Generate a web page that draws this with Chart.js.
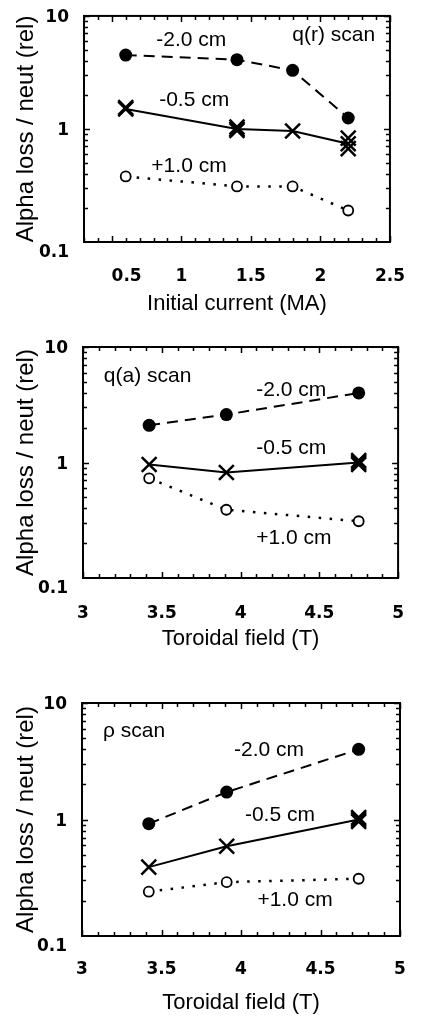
<!DOCTYPE html>
<html>
<head>
<meta charset="utf-8">
<script src="https://cdn.jsdelivr.net/npm/chart.js@4.4.1/dist/chart.umd.min.js"></script>
<style>
  html, body { margin: 0; padding: 0; background: #fff; }
  body { width: 421px; height: 1018px; position: relative; overflow: hidden; }
  canvas { position: absolute; left: 0; }
</style>
</head>
<body>
<canvas id="qrChart" width="421" height="330" style="top:0"></canvas>
<canvas id="qaChart" width="421" height="330" style="top:330px"></canvas>
<canvas id="rhoChart" width="421" height="348" style="top:670px"></canvas>
<script>
// q(r) scan -- alpha loss vs initial current
const current = [0.6, 1.4, 1.8, 2.2];
const qrMinus20 = [4.5, 4.1, 3.3, 1.25];
const qrMinus05 = [1.5, 1.0, 0.96, 0.74];
const qrPlus10 = [0.38, 0.31, 0.31, 0.19];
// repeated shots that sit on top of the -0.5 cm points
const qrRepeatX = [0.6, 1.4, 1.4, 2.2, 2.2];
const qrRepeatY = [1.55, 0.97, 1.04, 0.83, 0.67];

// q(a) scan -- alpha loss vs toroidal field
const fieldQa = [3.42, 3.91, 4.75];
const qaMinus20 = [2.1, 2.6, 4.0];
const qaMinus05 = [0.96, 0.82, 1.0];
const qaPlus10 = [0.73, 0.39, 0.31];
const qaRepeatX = [4.75, 4.75];
const qaRepeatY = [0.96, 1.04];

// rho scan -- alpha loss vs toroidal field
const fieldRho = [3.42, 3.91, 4.74];
const rhoMinus20 = [0.92, 1.72, 4.0];
const rhoMinus05 = [0.39, 0.59, 1.0];
const rhoPlus10 = [0.24, 0.29, 0.31];
const rhoRepeatX = [4.74, 4.74];
const rhoRepeatY = [0.96, 1.04];

const yTicks = [0.1, 1, 10];
const currentTicks = [0.5, 1, 1.5, 2, 2.5];
const fieldTicks = [3, 3.5, 4, 4.5, 5];

const pts = (xs, ys) => xs.map((x, i) => ({ x, y: ys[i] }));

const TEXT_FONT = '"Liberation Sans", Arial, Helvetica, sans-serif';

const dashedFilled = {
  borderColor: "#000", borderWidth: 2, borderDash: [11, 7],
  pointStyle: "circle", pointRadius: 6.5,
  pointBackgroundColor: "#000", pointBorderColor: "#000", pointBorderWidth: 0
};
const solidCross = {
  borderColor: "#000", borderWidth: 2,
  pointStyle: "crossRot", pointRadius: 10.5,
  pointBorderColor: "#000", pointBorderWidth: 2.5
};
const dottedOpen = {
  borderColor: "#000", borderWidth: 2.5, borderDash: [2.5, 8.5],
  pointStyle: "circle", pointRadius: 5,
  pointBackgroundColor: "#fff", pointBorderColor: "#000", pointBorderWidth: 1.8
};

// box frame with inward ticks on all four sides
const frameTicks = {
  id: "frameTicks",
  afterDraw(chart, args, opts) {
    const { ctx, chartArea: a, scales: { x, y } } = chart;
    ctx.save();
    ctx.strokeStyle = "#000";
    ctx.lineWidth = 1.5;
    ctx.beginPath();
    const n = Math.round((x.max - x.min) / opts.xMinor);
    for (let i = 0; i <= n; i++) {
      const v = x.min + i * opts.xMinor;
      const r = v / opts.xMajor;
      const len = Math.abs(r - Math.round(r)) < 1e-6 ? 6 : 4;
      const px = Math.round(x.getPixelForValue(v)) + 0.5;
      ctx.moveTo(px, a.bottom); ctx.lineTo(px, a.bottom - len);
      ctx.moveTo(px, a.top); ctx.lineTo(px, a.top + len);
    }
    [0.1, 1].forEach((d) => {
      for (let k = 2; k <= 10; k++) {
        const len = k === 10 ? 6 : 4;
        const py = Math.round(y.getPixelForValue(d * k)) + 0.5;
        ctx.moveTo(a.left, py); ctx.lineTo(a.left + len, py);
        ctx.moveTo(a.right, py); ctx.lineTo(a.right - len, py);
      }
    });
    ctx.stroke();
    ctx.lineWidth = 2;
    ctx.strokeRect(a.left, a.top, a.right - a.left, a.bottom - a.top);
    ctx.restore();
  }
};

const textLabels = {
  id: "textLabels",
  afterDatasetsDraw(chart, args, opts) {
    const { ctx, scales: { x, y } } = chart;
    ctx.save();
    ctx.fillStyle = "#000";
    ctx.font = "21px " + TEXT_FONT;
    ctx.textAlign = "center";
    ctx.textBaseline = "middle";
    opts.items.forEach((t) => ctx.fillText(t.text, x.getPixelForValue(t.x), y.getPixelForValue(t.y)));
    ctx.restore();
  }
};

function makeChart(id, p) {
  return new Chart(document.getElementById(id), {
    type: "line",
    data: {
      datasets: [
        { ...dashedFilled, data: pts(p.xs, p.m20) },
        { ...solidCross, data: pts(p.xs, p.m05) },
        { ...solidCross, showLine: false, data: pts(p.repX, p.repY) },
        { ...dottedOpen, data: pts(p.xs, p.p10) }
      ]
    },
    options: {
      responsive: false,
      animation: false,
      layout: { padding: { top: p.top, right: 21, bottom: 0, left: 0 } },
      plugins: {
        legend: { display: false },
        tooltip: { enabled: false },
        frameTicks: { xMinor: 0.1, xMajor: 0.5 },
        textLabels: { items: p.labels }
      },
      scales: {
        x: {
          type: "linear",
          min: p.xMin,
          max: p.xMax,
          grid: { display: false },
          border: { display: false },
          afterBuildTicks: (s) => { s.ticks = p.xTicks.map((v) => ({ value: v })); },
          afterFit: (s) => { s.height = p.xHeight; },
          ticks: {
            autoSkip: false,
            maxRotation: 0,
            padding: p.xTickPad,
            color: "#000",
            font: { family: '"DejaVu Sans", sans-serif', size: 17, weight: "bold" },
            callback: (v) => (p.xShift && v === p.xTicks[0] ? "     " + v : String(v))
          },
          title: {
            display: true,
            text: p.xTitle,
            color: "#000",
            font: { family: TEXT_FONT, size: 22 },
            padding: { top: 0, bottom: p.xTitlePad }
          }
        },
        y: {
          type: "logarithmic",
          min: 0.1,
          max: 10,
          grid: { display: false },
          border: { display: false },
          afterBuildTicks: (s) => { s.ticks = yTicks.map((v) => ({ value: v, major: true })); },
          afterFit: (s) => { s.width = p.left; },
          ticks: {
            autoSkip: false,
            padding: 7,
            labelOffset: 2,
            color: "#000",
            font: { family: '"DejaVu Sans", sans-serif', size: 17, weight: "bold", lineHeight: 1.05 },
            callback: (v) => (v === 0.1 ? ["", "0.1"] : String(v))
          },
          title: {
            display: true,
            text: "Alpha loss / neut (rel)",
            color: "#000",
            font: { family: TEXT_FONT, size: 24 },
            padding: { top: 12, bottom: 0 }
          }
        }
      }
    },
    plugins: [frameTicks, textLabels]
  });
}

makeChart("qrChart", {
  xs: current, m20: qrMinus20, m05: qrMinus05, p10: qrPlus10,
  repX: qrRepeatX, repY: qrRepeatY,
  xMin: 0.3, xMax: 2.5, xTicks: currentTicks, xShift: true,
  xTitle: "Initial current (MA)",
  top: 12, left: 84, xHeight: 88, xTickPad: 16, xTitlePad: 13,
  labels: [
    { text: "-2.0 cm", x: 1.071, y: 6.15 },
    { text: "q(r) scan", x: 2.096, y: 6.7 },
    { text: "-0.5 cm", x: 1.092, y: 1.78 },
    { text: "+1.0 cm", x: 1.055, y: 0.467 }
  ]
});

makeChart("qaChart", {
  xs: fieldQa, m20: qaMinus20, m05: qaMinus05, p10: qaPlus10,
  repX: qaRepeatX, repY: qaRepeatY,
  xMin: 3, xMax: 5, xTicks: fieldTicks, xShift: false,
  xTitle: "Toroidal field (T)",
  top: 17, left: 83, xHeight: 82, xTickPad: 17, xTitlePad: 8,
  labels: [
    { text: "q(a) scan", x: 3.41, y: 5.61 },
    { text: "-2.0 cm", x: 4.322, y: 4.25 },
    { text: "-0.5 cm", x: 4.322, y: 1.33 },
    { text: "+1.0 cm", x: 4.338, y: 0.221 }
  ]
});

makeChart("rhoChart", {
  xs: fieldRho, m20: rhoMinus20, m05: rhoMinus05, p10: rhoPlus10,
  repX: rhoRepeatX, repY: rhoRepeatY,
  xMin: 3, xMax: 5, xTicks: fieldTicks, xShift: false,
  xTitle: "Toroidal field (T)",
  top: 33, left: 82, xHeight: 82, xTickPad: 15, xTitlePad: 2,
  labels: [
    { text: "\u03c1 scan", x: 3.327, y: 5.75 },
    { text: "-2.0 cm", x: 4.176, y: 3.9 },
    { text: "-0.5 cm", x: 4.245, y: 1.09 },
    { text: "+1.0 cm", x: 4.34, y: 0.204 }
  ]
});
</script>
</body>
</html>
